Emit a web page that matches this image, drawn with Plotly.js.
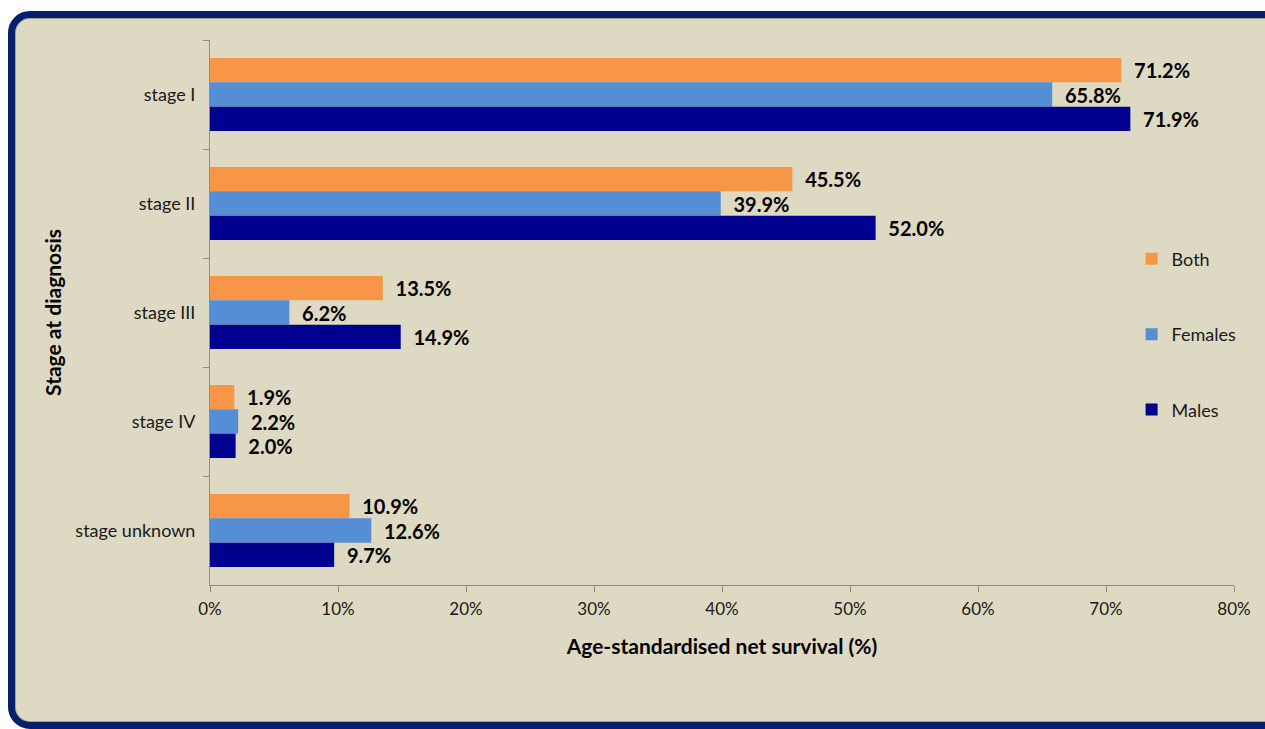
<!DOCTYPE html>
<html>
<head>
<meta charset="utf-8">
<script src="https://cdn.plot.ly/plotly-3.0.1.min.js"></script>
<style>
  html, body { margin: 0; padding: 0; background: #ffffff; width: 1265px; height: 729px; overflow: hidden; }
  #frame { position: absolute; left: 8px; top: 11px; width: 1290px; height: 704px; background: #DDD9C3;
           border: 7px solid #03216A; border-radius: 22px; box-sizing: content-box;
           box-shadow: inset 0 0 0 1px #a3a192; }
  #chart { position: absolute; left: 0; top: 0; width: 1265px; height: 729px; }
</style>
</head>
<body>
<div id="frame"></div>
<div id="chart"></div>
<script>
const categories = ["stage I", "stage II", "stage III", "stage IV", "stage unknown"];
const both    = [71.2, 45.5, 13.5, 1.9, 10.9];
const females = [65.8, 39.9, 6.2, 2.2, 12.6];
const males   = [71.9, 52.0, 14.9, 2.0, 9.7];
const seriesNames = ["Both", "Females", "Males"];
const xTickVals = [0, 10, 20, 30, 40, 50, 60, 70, 80];
const xTickText = ["0%", "10%", "20%", "30%", "40%", "50%", "60%", "70%", "80%"];

const colors = ["#F79646", "#558ED5", "#00008E"];
const font = "Lato, 'Open Sans', sans-serif";

function mk(vals, i) {
  return {
    type: "bar", orientation: "h",
    x: vals, y: categories, name: seriesNames[i],
    legendgroup: "g" + i,
    marker: { color: colors[i] },
    text: vals.map(v => "\u00a0\u00a0" + v.toFixed(1) + "%"),
    textposition: "outside",
    textfont: { family: font, size: 20, color: "#000", weight: 700 },
    constraintext: "none",
    cliponaxis: false,
    hoverinfo: "x+name"
  };
}

const data = [mk(both, 0), mk(females, 1), mk(males, 2)];

const layout = {
  width: 1265, height: 729,
  paper_bgcolor: "rgba(0,0,0,0)", plot_bgcolor: "rgba(0,0,0,0)",
  margin: { l: 210, r: 31, t: 40, b: 144 },
  barmode: "group", bargap: 0.33, bargroupgap: 0,
  font: { family: font, size: 17, color: "#1a1a1a" },
  xaxis: {
    range: [0, 80], tickvals: xTickVals, ticktext: xTickText,
    showgrid: false, zeroline: false,
    showline: true, linecolor: "#8c8c8c", linewidth: 1,
    ticks: "outside", ticklen: 6, tickcolor: "#8c8c8c",
    ticklabelstandoff: 3,
    tickfont: { family: font, size: 17, color: "#1a1a1a" },
    title: { text: "Age-standardised net survival (%)", font: { family: font, size: 21, color: "#000", weight: 700 }, standoff: 20 },
    fixedrange: true
  },
  yaxis: {
    type: "category", categoryorder: "array", categoryarray: categories,
    autorange: "reversed",
    showgrid: false, zeroline: false,
    showline: true, linecolor: "#8c8c8c", linewidth: 1,
    ticks: "outside", ticklen: 6, tickcolor: "#8c8c8c", tickson: "boundaries",
    ticklabelstandoff: 10,
    tickfont: { family: font, size: 18, color: "#1a1a1a" },
    title: { text: "Stage at diagnosis", font: { family: font, size: 21, color: "#000", weight: 700 }, standoff: 8 },
    fixedrange: true
  },
  showlegend: true,
  legend: {
    x: 0.9, y: 0.632, xanchor: "left", yanchor: "top",
    traceorder: "grouped", tracegroupgap: 49,
    bgcolor: "rgba(0,0,0,0)",
    font: { family: font, size: 18, color: "#1a1a1a" },
    itemwidth: 30
  }
};

Plotly.newPlot("chart", data, layout, { displayModeBar: false, staticPlot: true });
</script>
</body>
</html>
